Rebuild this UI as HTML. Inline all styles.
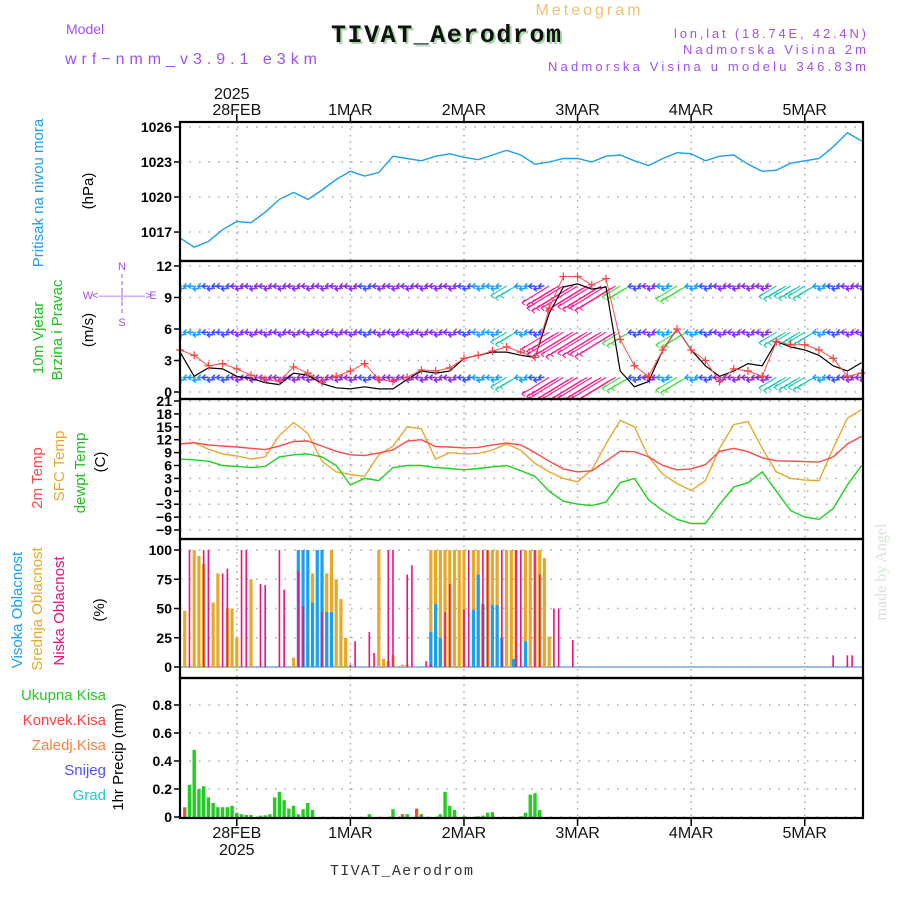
<!DOCTYPE html>
<html><head><meta charset="utf-8"><style>
html,body{margin:0;padding:0;background:#fff;}
svg{display:block;font-family:"Liberation Sans",sans-serif;}
</style></head><body>
<svg id="chart" width="900" height="900" viewBox="0 0 900 900" xmlns="http://www.w3.org/2000/svg">
<defs><clipPath id="clipW"><rect x="180" y="261" width="683" height="138"/></clipPath></defs>
<rect x="0" y="0" width="900" height="900" fill="#fff"/>
<text x="588" y="15" font-size="16" fill="#f0c070" text-anchor="middle" textLength="105">Meteogram</text>
<text x="66" y="34" font-size="14" fill="#a050f0">Model</text>
<text x="65" y="64" font-size="16" fill="#a050f0" textLength="252">wrf−nmm_v3.9.1 e3km</text>
<text x="333" y="44" font-family="Liberation Mono" font-weight="bold" font-size="25" fill="#a8d8a8" textLength="230">TIVAT_Aerodrom</text>
<text x="331" y="42" font-family="Liberation Mono" font-weight="bold" font-size="25" fill="#111" textLength="230">TIVAT_Aerodrom</text>
<text x="866" y="38" font-size="13" fill="#a050f0" text-anchor="end" textLength="192">lon,lat (18.74E, 42.4N)</text>
<text x="866" y="54" font-size="13" fill="#a050f0" text-anchor="end" textLength="183">Nadmorska Visina 2m</text>
<text x="866" y="71" font-size="13" fill="#a050f0" text-anchor="end" textLength="318">Nadmorska Visina u modelu 346.83m</text>
<text x="330" y="875" font-family="Liberation Mono" font-size="15" fill="#333" textLength="143">TIVAT_Aerodrom</text>
<text transform="translate(886,572) rotate(-90)" font-family="Liberation Serif" font-size="16" fill="#d4e4d4" text-anchor="middle">made by Angel</text>
<g id="g"></g>
</svg>
<script>
// ---- data (3-hourly, h = 0,3,...,144 from 27FEB 12Z) ----
const dayLabels = ["28FEB","1MAR","2MAR","3MAR","4MAR","5MAR"];
const dayHours = [12,36,60,84,108,132];
const pressure = [1016.5,1015.7,1016.2,1017.2,1017.9,1017.8,1018.7,1019.8,1020.4,1019.8,1020.6,1021.5,1022.2,1021.8,1022.1,1023.5,1023.3,1023.1,1023.5,1023.7,1023.4,1023.2,1023.6,1024,1023.6,1022.8,1023,1023.3,1023.3,1023,1023.5,1023.6,1023.1,1022.7,1023.3,1023.8,1023.7,1023.1,1023.5,1023.6,1022.8,1022.2,1022.3,1022.9,1023.1,1023.3,1024.3,1025.5,1024.8];
const pTicks = [1026,1023,1020,1017];
const gust = [4,3.5,2.5,2.7,2.2,1.6,1.2,1,2.4,1.8,0.9,1.5,2,2.7,1.2,1,1.4,2.1,2,2.3,3.2,3.5,3.9,4.3,3.8,3.3,8,11,11,10.2,10.8,5,2.5,1.5,4,6,4,3,1,2.2,2,1.5,4.8,4.5,4.5,4,3.2,1.5,1.8];
const wspd = [3.8,1.5,2.3,2.2,1.5,1.3,0.9,0.7,1.8,1.6,0.8,0.4,0.3,0.5,0.3,0.3,1.2,2,1.8,2,3.2,3.5,3.8,3.8,3.5,3.3,7.5,10,10.3,9.8,10,2,0.5,1,4,6,4,2.5,1.5,2,2.7,2.5,4.8,4.3,4,3.5,2.5,2,2.8];
const wTicks = [12,9,6,3,0];
const t2m = [11,11.3,10.8,10.5,10.3,10,9.7,10.5,11.6,11.7,10.5,9.3,8.5,8.3,8.9,9.6,11.7,12,10.4,10.3,10.1,10.2,10.8,11.2,10.8,9,7,5.2,4.5,4.8,7,9.3,9.2,8,6,5,5.2,6.2,9.3,10,9.2,7.8,7.1,7,6.9,6.8,8,11,12.8];
const tsfc = [11,11.3,9.8,8.7,8.2,7.5,8,13,16,13.5,7,4.5,3.9,3.5,8.5,10.5,15,14.5,7.5,9,8.7,8.8,9.6,11,9.5,6.5,4.5,3,2.2,5,11,16.5,15,8,4,1.8,0.2,2.5,10,15.5,16.2,10,4.5,3,2.6,2.5,10,17,19];
const tdew = [7.5,7.3,7,6,5.8,5.5,5.8,8,8.5,8.7,8,6,1.5,3,2.5,5.5,6,6,5.5,5.3,5,5.3,5.7,6,4.8,3.5,0,-2.3,-3,-3.3,-2.5,2,3,-2,-4.5,-6.5,-7.5,-7.5,-3,1,2,4.5,0,-4.5,-6,-6.5,-4,1.5,6];
const tTicks = [21,18,15,12,9,6,3,0,-3,-6,-9];
// clouds (hour, %)
const midH = [1,3,4,5,7,8,10,11,12,15,24,26,27,28,30,31,32,33,34,35,42,43,44,45,47,48,53,54,55,56,57,58,59,60,62,63,65,66,67,69,70,71,73,74,75,76,77,78];
const midV = [48,100,95,88,55,80,50,50,25,75,8,46,20,80,80,80,100,75,58,25,100,7,5,10,2,2,100,100,100,100,100,100,100,100,100,100,100,100,100,100,100,100,100,100,100,100,93,26];
const highH = [25,26,27,28,29,30,31,32,53,54,55,62,63,64,66,67,68,70.5,73];
const highV = [100,100,100,55,100,100,47,47,30,54,25,49,79,54,53,53,25,7,22];
const lowH = [2,5,6,9,10,13,14,17,18,21,22,25,26,30,36,37,40,41,44,45,48,49,52,53,56,57,60,61,64,65,68,71,72,75,76,79,80,83,138,141,142];
const lowV = [100,100,100,80,84,100,100,71,70,100,66,82,52,47,2,22,30,12,100,100,79,87,5,2,47,71,49,100,100,100,100,100,100,100,79,50,50,23,10,10,10];
const cTicks = [100,75,50,25,0];
// precipitation (hour, mm)
const rainH = [1,2,3,4,5,6,7,8,9,10,11,12,13,14,15,17,18,19,20,21,22,23,24,25,26,27,28,40,45,47,48,50,51,55,56,57,58,60,63,64,65,66,72,73,74,75,76];
const rainV = [0.07,0.23,0.48,0.2,0.22,0.14,0.1,0.07,0.07,0.07,0.08,0.03,0.02,0.015,0.015,0.01,0.012,0.02,0.14,0.18,0.12,0.06,0.08,0.02,0.055,0.1,0.05,0.02,0.055,0.02,0.02,0.06,0.02,0.02,0.18,0.08,0.05,0.005,0.005,0.01,0.03,0.035,0.005,0.03,0.16,0.17,0.05];
const convH = [1,47,50,51];
const convV = [0.06,0.02,0.06,0.02];
const prTicks = [0.8,0.6,0.4,0.2,0];

// ---- axes ----
const X0 = 180, X1 = 863, PXH = 4.733;
const xs = h => X0 + h*PXH;
const yP = v => 127 + (1026 - v)*11.67;
const yW = v => 392 - v*10.5;
const yT = v => 401 + (21 - v)*4.3;
const yC = v => 667 - v*1.17;
const yR = v => 817 - v*140;
const panels = [[122,261],[261,399],[399,539],[539,678],[678,818]];
const NS = "http://www.w3.org/2000/svg";
const G = document.getElementById('g');
function mk(tag, attrs, parent){ const e=document.createElementNS(NS,tag); for(const k in attrs) e.setAttribute(k,attrs[k]); (parent||G).appendChild(e); return e; }
function txt(s, attrs, parent){ const e=mk('text',attrs,parent); e.textContent=s; return e; }

panels.forEach((p,i)=>{
  dayHours.forEach(h=>{
    const l=mk('line',{x1:xs(h),x2:xs(h),y1:p[0],y2:p[1],stroke:'#aaa','stroke-width':1.5,'stroke-dasharray':'1.5,5'});
    
    
  });
});
function hgrid(ticks, yf, name, fmt){
  ticks.forEach(t=>{
    const y=yf(t);
    const l=mk('line',{x1:X0,x2:X1,y1:y,y2:y,stroke:'#aaa','stroke-width':1.5,'stroke-dasharray':'1.5,8'});
    
    
    mk('line',{x1:X0-6,x2:X0,y1:y,y2:y,stroke:'#000','stroke-width':1.5});
    const t2=txt(fmt(t),{x:X0-8,y:y+5,'font-size':14,'font-weight':'bold','text-anchor':'end',fill:'#000'});
    
    
  });
}
hgrid(pTicks,yP,'pressure',t=>String(t));
hgrid(wTicks,yW,'wind',t=>String(t));
hgrid(tTicks,yT,'temp',t=>String(t).replace('-','−'));
hgrid(cTicks,yC,'cloud',t=>String(t));
hgrid(prTicks,yR,'precip',t=>t===0?'0':t.toFixed(1));

function line(arr, yf, color, name, w, parent){
  const pts=arr.map((v,i)=>xs(i*3).toFixed(1)+','+yf(v).toFixed(1)).join(' ');
  const l=mk('polyline',{points:pts,fill:'none',stroke:color,'stroke-width':w||1.4},parent);
  
  
  return l;
}
line(pressure,yP,'#1aa0f0','pressure-line');

// wind arrows
const WG = mk('g',{'clip-path':'url(#clipW)'});
function wcol(s){ if(s<2.5) return '#8a2be2'; if(s<3.5) return '#3a50ff'; if(s<4.2) return '#1aa0ff'; if(s<5) return '#20c8b0'; if(s<6.5) return '#40e040'; if(s<8) return '#ff8040'; return '#ff1493'; }
const rows=[10,5.6,1.3];
rows.forEach((rv,ri)=>{
  gust.forEach((s,i)=>{
    for(let k=0;k<3;k++){
      const x=xs(i*3+k), y=yW(rv)+(k%2?1.5:-1);
      const strong=s>=4.2;
      const L=strong?3+s*3.6:6, ang=strong?0.55:0.05;
      const x2=x-L*Math.cos(ang), y2=y+L*Math.sin(ang);
      const c=wcol(s);
      const a=mk('line',{x1:x,y1:y,x2:x2,y2:y2,stroke:c,'stroke-width':strong?1.1:1.6},WG);
      
      
      mk('polyline',{points:(x2+3)+','+(y2-3)+' '+x2+','+y2+' '+(x2+3)+','+(y2+2.5),fill:'none',stroke:c,'stroke-width':strong?1:1.4},WG);
    }
  });
});
line(wspd,yW,'#000','wind-speed-line',1.2);
line(gust,yW,'#ff5050','wind-gust-line',1);
gust.forEach((v,i)=>{
  const x=xs(i*3), y=yW(v);
  const c=mk('path',{d:`M${x-4},${y}H${x+4}M${x},${y-4}V${y+4}`,stroke:'#ff4040','stroke-width':1.2});
  
  
});

line(tsfc,yT,'#e8a830','sfc-temp-line');
line(t2m,yT,'#ff4848','2m-temp-line');
line(tdew,yT,'#20d020','dewpoint-line');

mk('line',{x1:X0,x2:X1,y1:yC(0),y2:yC(0),stroke:'#7aa8d8','stroke-width':1.5});
function bars(H,V,yf,col,w,name){
  H.forEach((h,i)=>{
    const x=xs(h), y=yf(V[i]), y0=yf(0);
    const r=mk('rect',{x:x-w/2,y:y,width:w,height:Math.max(0.5,y0-y),fill:col});
    
    
  });
}
bars(midH,midV,yC,'#e8a828',3.2,'mid-cloud-bar');
bars(highH,highV,yC,'#1aa0f0',3.2,'high-cloud-bar');
bars(lowH,lowV,yC,'#f0107f',1.6,'low-cloud-bar');

bars(rainH,rainV,yR,'#22cc22',3.4,'total-precip-bar');
bars(convH,convV,yR,'#ff4040',1.6,'convective-precip-bar');

panels.forEach((p,i)=>{
  const r=mk('rect',{x:X0,y:p[0],width:X1-X0,height:p[1]-p[0],fill:'none',stroke:'#000','stroke-width':2.2});
  
  
});
dayHours.forEach((h,i)=>{
  const x=xs(h);
  mk('line',{x1:x,x2:x,y1:114,y2:122,stroke:'#000','stroke-width':1.5});
  mk('line',{x1:x,x2:x,y1:818,y2:826,stroke:'#000','stroke-width':1.5});
  const t=txt(dayLabels[i],{x:x,y:115,'font-size':16,'text-anchor':'middle',fill:'#111'});
  
  
  const b=txt(dayLabels[i],{x:x,y:838,'font-size':16,'text-anchor':'middle',fill:'#111'});
  
  
});
txt('2025',{x:xs(12)-5,y:99,'font-size':16,'text-anchor':'middle',fill:'#111'});
txt('2025',{x:xs(12),y:855,'font-size':16,'text-anchor':'middle',fill:'#111'});

function rot(s,x,y,col,name,size){
  const t=txt(s,{transform:`translate(${x},${y}) rotate(-90)`,'font-size':size||15,'text-anchor':'middle',fill:col});
  
  
}
rot('Pritisak na nivou mora',43,193,'#1aa0f0','pressure-title');
rot('(hPa)',93,191,'#000','pressure-unit');
rot('10m Vjetar',43,338,'#20c020','wind-title');
rot('Brzina i Pravac',62,330,'#20c020','wind-subtitle');
rot('(m/s)',93,330,'#000','wind-unit');
rot('2m Temp',42,478,'#ff4848','temp-2m-title');
rot('SFC Temp',64,466,'#e8a830','sfc-temp-title');
rot('dewpt Temp',85,473,'#20c020','dewpoint-title');
rot('(C)',105,462,'#000','temp-unit');
rot('Visoka Oblacnost',22,610,'#1aa0f0','high-cloud-title');
rot('Srednja Oblacnost',42,609,'#e8a830','mid-cloud-title');
rot('Niska Oblacnost',64,611,'#f0107f','low-cloud-title');
rot('(%)',104,610,'#000','cloud-unit');
rot('1hr Precip (mm)',123,757,'#000','precip-title');
const cp=[['W',88,299],['<——|——>',122,299],['E',153,299],['N',122,270],['S',122,326]];
cp.forEach(c=>{ const t=txt(c[0],{x:c[1],y:c[2],'font-size':11,'text-anchor':'middle',fill:'#a050f0'});   });
mk('line',{x1:122,x2:122,y1:274,y2:315,stroke:'#a050f0','stroke-width':1,'stroke-dasharray':'4,3'});
const leg=[['Ukupna Kisa','#22cc22',700],['Konvek.Kisa','#ff4040',725],['Zaledj.Kisa','#ff8040',750],['Snijeg','#5050ff',775],['Grad','#20c8d0',800]];
leg.forEach(l=>{ const t=txt(l[0],{x:106,y:l[2],'font-size':15,'text-anchor':'end',fill:l[1]});   });
</script>
</body></html>
